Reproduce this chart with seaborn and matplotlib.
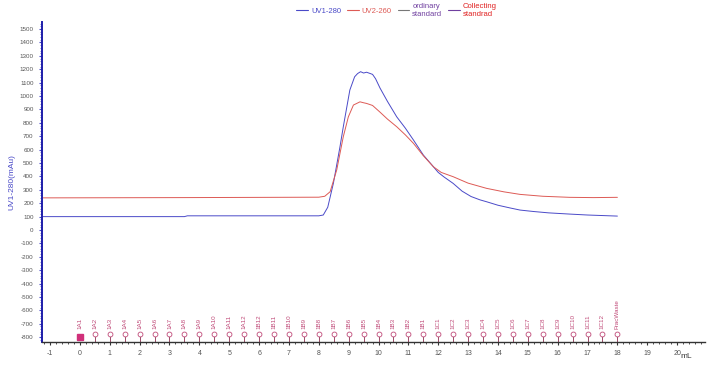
import numpy as np
import pandas as pd
import matplotlib
matplotlib.use("Agg")
import matplotlib.pyplot as plt
from matplotlib.lines import Line2D
from matplotlib.ticker import MultipleLocator
import seaborn as sns

# UV traces (mL, mAu)
uv1_ml = [-1.27, 3.5, 3.6, 8.0, 8.15, 8.3, 8.49, 8.71, 8.82, 9.04, 9.2, 9.3, 9.4, 9.5, 9.6,
          9.7, 9.8, 9.9, 10.05, 10.3, 10.61, 10.9, 11.17, 11.5, 11.84,
          12.0, 12.2, 12.5, 12.8, 13.1, 13.4, 13.62, 14.0, 14.4, 14.74, 15.2, 15.7,
          16.4, 17.0, 17.5, 18.0]
uv1_mau = [100, 100, 106, 106, 112, 170, 350, 622, 770, 1045, 1144, 1168, 1182, 1172, 1178,
           1170, 1162, 1130, 1060, 960, 845, 760, 672, 560, 472,
           430, 395, 348, 290, 250, 225, 211, 185, 165, 149, 138, 128,
           119, 112, 108, 104]

uv2_ml = [-1.27, 3.5, 8.0, 8.2, 8.38, 8.6, 8.71, 8.82, 8.99, 9.16, 9.38, 9.5, 9.6,
          9.8, 10.05, 10.3, 10.61, 10.9, 11.17, 11.5, 11.84, 12.1, 12.5, 13.0, 13.62,
          14.2, 14.74, 15.5, 16.4, 17.2, 18.0]
uv2_mau = [240, 242, 245, 252, 286, 448, 572, 696, 845, 933, 957, 950, 945,
           930, 880, 828, 771, 710, 647, 555, 472, 430, 398, 350, 311,
           285, 266, 252, 244, 242, 244]

# fraction collector marks
frac_ml = [0, 0.5, 1, 1.5, 2, 2.5, 3, 3.5, 4, 4.5, 5, 5.5, 6, 6.5, 7, 7.5, 8, 8.5, 9,
           9.5, 10, 10.5, 11, 11.5, 12, 12.5, 13, 13.5, 14, 14.5, 15, 15.5, 16, 16.5,
           17, 17.5, 18]
frac_names = ["1A1", "1A2", "1A3", "1A4", "1A5", "1A6", "1A7", "1A8", "1A9", "1A10", "1A11", "1A12",
              "1B12", "1B11", "1B10", "1B9", "1B8", "1B7", "1B6", "1B5", "1B4", "1B3", "1B2", "1B1",
              "1C1", "1C2", "1C3", "1C4", "1C5", "1C6", "1C7", "1C8", "1C9", "1C10", "1C11", "1C12",
              "FracWaste"]

sns.set_style("ticks")
plt.rcParams['font.family'] = ['Liberation Sans', 'DejaVu Sans']
plt.rcParams['axes.unicode_minus'] = False

blue = "#4a4ac8"
red = "#dd5a55"
frac_col = "#c04a78"

fig = plt.figure(figsize=(7.24, 3.75), dpi=100)
ax = fig.add_axes([0.058, 0.088, 0.916, 0.853])

sns.lineplot(x=uv1_ml, y=uv1_mau, ax=ax, color=blue, linewidth=0.7,
             sort=False, estimator=None)
sns.lineplot(x=uv2_ml, y=uv2_mau, ax=ax, color=red, linewidth=0.7,
             sort=False, estimator=None)

# fraction marks: stem + hollow circle + rotated label
circle_y = -776
for xm, name in zip(frac_ml, frac_names):
    if name == "1A1":
        ax.plot([xm], [-800], marker="s", ms=4, color="#d0307a", clip_on=False)
    else:
        ax.plot([xm, xm], [-836, circle_y], color="#8a3050", lw=0.6)
        ax.plot([xm], [circle_y], marker="o", ms=3.5, mfc="white", mec=frac_col, mew=0.6)
    ax.text(xm, -740, name, rotation=90, ha="center", va="bottom",
            fontsize=4.5, color=frac_col)

ax.set_xlim(-1.27, 20.94)
ax.set_ylim(-836, 1552)
ax.xaxis.set_major_locator(MultipleLocator(1))
ax.xaxis.set_minor_locator(MultipleLocator(0.2))
ax.yaxis.set_major_locator(MultipleLocator(100))
ax.yaxis.set_minor_locator(MultipleLocator(20))
ax.tick_params(axis="x", which="major", labelsize=5, colors="#333333", length=2.5, width=0.8,
               labelcolor="#555555")
ax.tick_params(axis="x", which="minor", length=1.5, width=0.6, colors="#333333")
ax.tick_params(axis="y", which="major", labelsize=4.5, colors=blue, length=2.5, width=0.8,
               labelcolor="#555555")
ax.tick_params(axis="y", which="minor", length=1.5, width=0.5, colors=blue)

for side in ("top", "right"):
    ax.spines[side].set_visible(False)
ax.spines["left"].set_color("#1e1eaa")
ax.spines["left"].set_linewidth(1.4)
ax.spines["bottom"].set_color("#333333")
ax.spines["bottom"].set_linewidth(1.0)

ax.set_ylabel("UV1-280(mAu)", fontsize=6, color=blue, labelpad=3)
ax.set_xlabel("")
fig.text(0.94, 0.045, "mL", fontsize=6, color="#333333")

handles = [Line2D([], [], color=blue, lw=0.8),
           Line2D([], [], color=red, lw=0.8),
           Line2D([], [], color="#777777", lw=0.8),
           Line2D([], [], color="#7040a0", lw=0.8)]
labels = ["UV1-280", "UV2-260", "ordinary\nstandard", "Collecting\nstandrad"]
fig.legend(handles, labels, loc="upper center", bbox_to_anchor=(0.548, 1.01), ncol=4,
           frameon=False, fontsize=5.5, handlelength=1.5, handletextpad=0.4,
           columnspacing=0.8, labelcolor=[blue, red, "#7040a0", "#e02020"])

fig.savefig("out.png", dpi=100)
